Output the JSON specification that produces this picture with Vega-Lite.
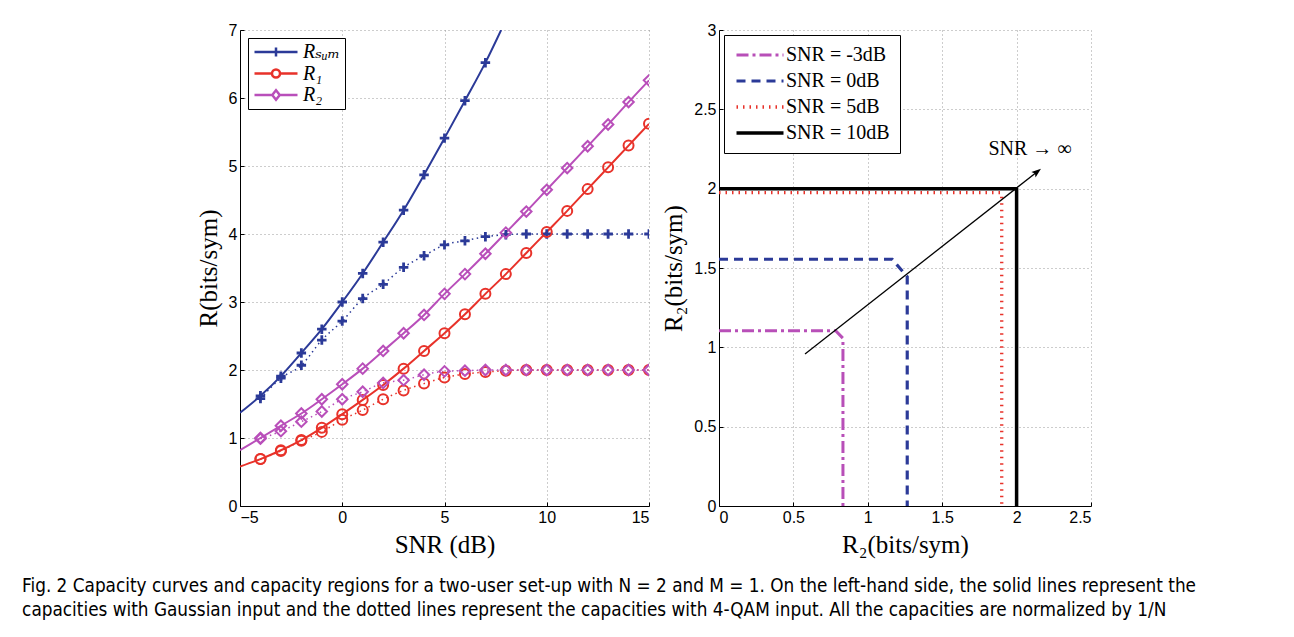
{
  "$schema": "https://vega.github.io/schema/vega-lite/v6.json",
  "background": "white",
  "padding": {"left": 22, "top": 22, "right": 10, "bottom": 10},
  "title": {
    "text": ["Fig. 2 Capacity curves and capacity regions for a two-user set-up with N = 2 and M = 1. On the left-hand side, the solid lines represent the", "capacities with Gaussian input and the dotted lines represent the capacities with 4-QAM input. All the capacities are normalized by 1/N"],
    "orient": "bottom", "anchor": "start", "frame": "bounds",
    "font": "Liberation Sans Narrow, DejaVu Sans Condensed, sans-serif",
    "fontSize": 18.8, "fontWeight": "normal", "color": "black",
    "lineHeight": 24, "offset": 20, "dx": -174
  },
  "datasets": {
    "curves": [
      {"series": "Rₛᵤₘ", "input": "Gaussian", "snr": -5, "rate": 1.37},
      {"series": "Rₛᵤₘ", "input": "Gaussian", "snr": -4, "rate": 1.62},
      {"series": "Rₛᵤₘ", "input": "Gaussian", "snr": -3, "rate": 1.91},
      {"series": "Rₛᵤₘ", "input": "Gaussian", "snr": -2, "rate": 2.25},
      {"series": "Rₛᵤₘ", "input": "Gaussian", "snr": -1, "rate": 2.6},
      {"series": "Rₛᵤₘ", "input": "Gaussian", "snr": 0, "rate": 3.0},
      {"series": "Rₛᵤₘ", "input": "Gaussian", "snr": 1, "rate": 3.42},
      {"series": "Rₛᵤₘ", "input": "Gaussian", "snr": 2, "rate": 3.88},
      {"series": "Rₛᵤₘ", "input": "Gaussian", "snr": 3, "rate": 4.35},
      {"series": "Rₛᵤₘ", "input": "Gaussian", "snr": 4, "rate": 4.87},
      {"series": "Rₛᵤₘ", "input": "Gaussian", "snr": 5, "rate": 5.41},
      {"series": "Rₛᵤₘ", "input": "Gaussian", "snr": 6, "rate": 5.96},
      {"series": "Rₛᵤₘ", "input": "Gaussian", "snr": 7, "rate": 6.52},
      {"series": "Rₛᵤₘ", "input": "Gaussian", "snr": 7.77, "rate": 7.0},
      {"series": "R₁", "input": "Gaussian", "snr": -5, "rate": 0.58},
      {"series": "R₁", "input": "Gaussian", "snr": -4, "rate": 0.69},
      {"series": "R₁", "input": "Gaussian", "snr": -3, "rate": 0.82},
      {"series": "R₁", "input": "Gaussian", "snr": -2, "rate": 0.97},
      {"series": "R₁", "input": "Gaussian", "snr": -1, "rate": 1.15},
      {"series": "R₁", "input": "Gaussian", "snr": 0, "rate": 1.35},
      {"series": "R₁", "input": "Gaussian", "snr": 1, "rate": 1.56},
      {"series": "R₁", "input": "Gaussian", "snr": 2, "rate": 1.78},
      {"series": "R₁", "input": "Gaussian", "snr": 3, "rate": 2.02},
      {"series": "R₁", "input": "Gaussian", "snr": 4, "rate": 2.28},
      {"series": "R₁", "input": "Gaussian", "snr": 5, "rate": 2.54},
      {"series": "R₁", "input": "Gaussian", "snr": 6, "rate": 2.82},
      {"series": "R₁", "input": "Gaussian", "snr": 7, "rate": 3.12},
      {"series": "R₁", "input": "Gaussian", "snr": 8, "rate": 3.41},
      {"series": "R₁", "input": "Gaussian", "snr": 9, "rate": 3.72},
      {"series": "R₁", "input": "Gaussian", "snr": 10, "rate": 4.03},
      {"series": "R₁", "input": "Gaussian", "snr": 11, "rate": 4.34},
      {"series": "R₁", "input": "Gaussian", "snr": 12, "rate": 4.66},
      {"series": "R₁", "input": "Gaussian", "snr": 13, "rate": 4.98},
      {"series": "R₁", "input": "Gaussian", "snr": 14, "rate": 5.3},
      {"series": "R₁", "input": "Gaussian", "snr": 15, "rate": 5.62},
      {"series": "R₂", "input": "Gaussian", "snr": -5, "rate": 0.82},
      {"series": "R₂", "input": "Gaussian", "snr": -4, "rate": 1.0},
      {"series": "R₂", "input": "Gaussian", "snr": -3, "rate": 1.18},
      {"series": "R₂", "input": "Gaussian", "snr": -2, "rate": 1.36},
      {"series": "R₂", "input": "Gaussian", "snr": -1, "rate": 1.57},
      {"series": "R₂", "input": "Gaussian", "snr": 0, "rate": 1.79},
      {"series": "R₂", "input": "Gaussian", "snr": 1, "rate": 2.02},
      {"series": "R₂", "input": "Gaussian", "snr": 2, "rate": 2.28},
      {"series": "R₂", "input": "Gaussian", "snr": 3, "rate": 2.54},
      {"series": "R₂", "input": "Gaussian", "snr": 4, "rate": 2.81},
      {"series": "R₂", "input": "Gaussian", "snr": 5, "rate": 3.12},
      {"series": "R₂", "input": "Gaussian", "snr": 6, "rate": 3.41},
      {"series": "R₂", "input": "Gaussian", "snr": 7, "rate": 3.71},
      {"series": "R₂", "input": "Gaussian", "snr": 8, "rate": 4.02},
      {"series": "R₂", "input": "Gaussian", "snr": 9, "rate": 4.33},
      {"series": "R₂", "input": "Gaussian", "snr": 10, "rate": 4.65},
      {"series": "R₂", "input": "Gaussian", "snr": 11, "rate": 4.97},
      {"series": "R₂", "input": "Gaussian", "snr": 12, "rate": 5.29},
      {"series": "R₂", "input": "Gaussian", "snr": 13, "rate": 5.61},
      {"series": "R₂", "input": "Gaussian", "snr": 14, "rate": 5.94},
      {"series": "R₂", "input": "Gaussian", "snr": 15, "rate": 6.26},
      {"series": "Rₛᵤₘ", "input": "4-QAM", "snr": -4, "rate": 1.58},
      {"series": "Rₛᵤₘ", "input": "4-QAM", "snr": -3, "rate": 1.88},
      {"series": "Rₛᵤₘ", "input": "4-QAM", "snr": -2, "rate": 2.07},
      {"series": "Rₛᵤₘ", "input": "4-QAM", "snr": -1, "rate": 2.44},
      {"series": "Rₛᵤₘ", "input": "4-QAM", "snr": 0, "rate": 2.72},
      {"series": "Rₛᵤₘ", "input": "4-QAM", "snr": 1, "rate": 3.05},
      {"series": "Rₛᵤₘ", "input": "4-QAM", "snr": 2, "rate": 3.26},
      {"series": "Rₛᵤₘ", "input": "4-QAM", "snr": 3, "rate": 3.51},
      {"series": "Rₛᵤₘ", "input": "4-QAM", "snr": 4, "rate": 3.68},
      {"series": "Rₛᵤₘ", "input": "4-QAM", "snr": 5, "rate": 3.84},
      {"series": "Rₛᵤₘ", "input": "4-QAM", "snr": 6, "rate": 3.9},
      {"series": "Rₛᵤₘ", "input": "4-QAM", "snr": 7, "rate": 3.96},
      {"series": "Rₛᵤₘ", "input": "4-QAM", "snr": 8, "rate": 3.99},
      {"series": "Rₛᵤₘ", "input": "4-QAM", "snr": 9, "rate": 4.0},
      {"series": "Rₛᵤₘ", "input": "4-QAM", "snr": 10, "rate": 4.0},
      {"series": "Rₛᵤₘ", "input": "4-QAM", "snr": 11, "rate": 4.0},
      {"series": "Rₛᵤₘ", "input": "4-QAM", "snr": 12, "rate": 4.0},
      {"series": "Rₛᵤₘ", "input": "4-QAM", "snr": 13, "rate": 4.0},
      {"series": "Rₛᵤₘ", "input": "4-QAM", "snr": 14, "rate": 4.0},
      {"series": "Rₛᵤₘ", "input": "4-QAM", "snr": 15, "rate": 4.0},
      {"series": "R₁", "input": "4-QAM", "snr": -4, "rate": 0.69},
      {"series": "R₁", "input": "4-QAM", "snr": -3, "rate": 0.81},
      {"series": "R₁", "input": "4-QAM", "snr": -2, "rate": 0.96},
      {"series": "R₁", "input": "4-QAM", "snr": -1, "rate": 1.09},
      {"series": "R₁", "input": "4-QAM", "snr": 0, "rate": 1.27},
      {"series": "R₁", "input": "4-QAM", "snr": 1, "rate": 1.41},
      {"series": "R₁", "input": "4-QAM", "snr": 2, "rate": 1.57},
      {"series": "R₁", "input": "4-QAM", "snr": 3, "rate": 1.7},
      {"series": "R₁", "input": "4-QAM", "snr": 4, "rate": 1.8},
      {"series": "R₁", "input": "4-QAM", "snr": 5, "rate": 1.89},
      {"series": "R₁", "input": "4-QAM", "snr": 6, "rate": 1.94},
      {"series": "R₁", "input": "4-QAM", "snr": 7, "rate": 1.97},
      {"series": "R₁", "input": "4-QAM", "snr": 8, "rate": 1.99},
      {"series": "R₁", "input": "4-QAM", "snr": 9, "rate": 2.0},
      {"series": "R₁", "input": "4-QAM", "snr": 10, "rate": 2.0},
      {"series": "R₁", "input": "4-QAM", "snr": 11, "rate": 2.0},
      {"series": "R₁", "input": "4-QAM", "snr": 12, "rate": 2.0},
      {"series": "R₁", "input": "4-QAM", "snr": 13, "rate": 2.0},
      {"series": "R₁", "input": "4-QAM", "snr": 14, "rate": 2.0},
      {"series": "R₁", "input": "4-QAM", "snr": 15, "rate": 2.0},
      {"series": "R₂", "input": "4-QAM", "snr": -4, "rate": 0.99},
      {"series": "R₂", "input": "4-QAM", "snr": -3, "rate": 1.1},
      {"series": "R₂", "input": "4-QAM", "snr": -2, "rate": 1.24},
      {"series": "R₂", "input": "4-QAM", "snr": -1, "rate": 1.39},
      {"series": "R₂", "input": "4-QAM", "snr": 0, "rate": 1.57},
      {"series": "R₂", "input": "4-QAM", "snr": 1, "rate": 1.68},
      {"series": "R₂", "input": "4-QAM", "snr": 2, "rate": 1.81},
      {"series": "R₂", "input": "4-QAM", "snr": 3, "rate": 1.85},
      {"series": "R₂", "input": "4-QAM", "snr": 4, "rate": 1.93},
      {"series": "R₂", "input": "4-QAM", "snr": 5, "rate": 1.98},
      {"series": "R₂", "input": "4-QAM", "snr": 6, "rate": 1.99},
      {"series": "R₂", "input": "4-QAM", "snr": 7, "rate": 2.0},
      {"series": "R₂", "input": "4-QAM", "snr": 8, "rate": 2.0},
      {"series": "R₂", "input": "4-QAM", "snr": 9, "rate": 2.0},
      {"series": "R₂", "input": "4-QAM", "snr": 10, "rate": 2.0},
      {"series": "R₂", "input": "4-QAM", "snr": 11, "rate": 2.0},
      {"series": "R₂", "input": "4-QAM", "snr": 12, "rate": 2.0},
      {"series": "R₂", "input": "4-QAM", "snr": 13, "rate": 2.0},
      {"series": "R₂", "input": "4-QAM", "snr": 14, "rate": 2.0},
      {"series": "R₂", "input": "4-QAM", "snr": 15, "rate": 2.0}
    ],
    "regions": [
      {"snr": "SNR = -3dB", "pt": 0, "R1": 0, "R2": 1.105},
      {"snr": "SNR = -3dB", "pt": 1, "R1": 0.784, "R2": 1.105},
      {"snr": "SNR = -3dB", "pt": 2, "R1": 0.833, "R2": 1.057},
      {"snr": "SNR = -3dB", "pt": 3, "R1": 0.833, "R2": 0},
      {"snr": "SNR = 0dB", "pt": 0, "R1": 0, "R2": 1.555},
      {"snr": "SNR = 0dB", "pt": 1, "R1": 1.164, "R2": 1.555},
      {"snr": "SNR = 0dB", "pt": 2, "R1": 1.265, "R2": 1.445},
      {"snr": "SNR = 0dB", "pt": 3, "R1": 1.265, "R2": 0},
      {"snr": "SNR = 5dB", "pt": 0, "R1": 0, "R2": 1.975},
      {"snr": "SNR = 5dB", "pt": 1, "R1": 1.892, "R2": 1.975},
      {"snr": "SNR = 5dB", "pt": 2, "R1": 1.9, "R2": 1.965},
      {"snr": "SNR = 5dB", "pt": 3, "R1": 1.9, "R2": 0},
      {"snr": "SNR = 10dB", "pt": 0, "R1": 0, "R2": 2.0},
      {"snr": "SNR = 10dB", "pt": 1, "R1": 1.998, "R2": 2.0},
      {"snr": "SNR = 10dB", "pt": 2, "R1": 2.0, "R2": 1.998},
      {"snr": "SNR = 10dB", "pt": 3, "R1": 2.0, "R2": 0}
    ],
    "arrow": [
      {"R1": 0.578, "R2": 0.958},
      {"R1": 2.13, "R2": 2.1}
    ],
    "arrowHead": [
      {"R1": 2.13, "R2": 2.1}
    ],
    "note": [
      {"R1": 2.09, "R2": 2.25, "label": "SNR → ∞"}
    ]
  },
  "spacing": 11,
  "resolve": {"scale": {"color": "independent", "shape": "independent", "strokeDash": "independent", "strokeWidth": "independent", "x": "independent", "y": "independent"}},
  "hconcat": [
    {
      "width": 409,
      "height": 476,
      "data": {"name": "curves"},
      "encoding": {
        "x": {"field": "snr", "type": "quantitative", "scale": {"domain": [-5, 15], "nice": false}, "axis": {"values": [-5, 0, 5, 10, 15], "format": "~g", "title": "SNR (dB)"}},
        "y": {"field": "rate", "type": "quantitative", "scale": {"domain": [0, 7], "nice": false}, "axis": {"values": [0, 1, 2, 3, 4, 5, 6, 7], "format": "~g", "title": "R(bits/sym)"}},
        "color": {
          "field": "series", "type": "nominal",
          "scale": {"domain": ["Rₛᵤₘ", "R₁", "R₂"], "range": ["#2B3A98", "#E8322A", "#B94FBA"]},
          "legend": {
            "title": null, "orient": "top-left", "offset": 8,
            "strokeColor": "black", "fillColor": "white", "padding": 4, "cornerRadius": 0,
            "labelFont": "Liberation Serif, DejaVu Serif, serif", "labelFontSize": 20, "labelFontStyle": "italic", "labelColor": "black",
            "symbolSize": 100, "symbolStrokeWidth": 2.5, "symbolOffset": 14, "labelOffset": 17, "rowPadding": 1.5
          }
        }
      },
      "layer": [
        {
          "transform": [{"filter": "datum.input === 'Gaussian'"}],
          "mark": {"type": "line", "strokeWidth": 2, "interpolate": "monotone", "clip": true}
        },
        {
          "transform": [{"filter": "datum.input === '4-QAM'"}],
          "mark": {"type": "line", "strokeWidth": 1.5, "strokeDash": [1.5, 3.5], "interpolate": "monotone", "clip": true}
        },
        {
          "transform": [{"filter": "datum.series === 'Rₛᵤₘ' && datum.snr >= -4 && datum.snr % 1 === 0"}],
          "mark": {"type": "point", "shape": "M-1,0H1M0,-1V1", "filled": false, "strokeWidth": 2.8, "size": 90, "opacity": 1, "clip": true}
        },
        {
          "transform": [{"filter": "datum.series === 'R₁' && datum.snr >= -4 && datum.snr % 1 === 0"}],
          "mark": {"type": "point", "shape": "circle", "filled": false, "strokeWidth": 2, "size": 100, "opacity": 1, "clip": true}
        },
        {
          "transform": [{"filter": "datum.series === 'R₂' && datum.snr >= -4 && datum.snr % 1 === 0"}],
          "mark": {"type": "point", "shape": "diamond", "filled": false, "strokeWidth": 2, "size": 110, "opacity": 1, "clip": true}
        },
        {
          "transform": [{"filter": "false"}],
          "mark": {"type": "point", "filled": false, "strokeWidth": 2.5, "size": 100, "opacity": 1},
          "encoding": {
            "shape": {
              "field": "series", "type": "nominal",
              "scale": {"domain": ["Rₛᵤₘ", "R₁", "R₂"], "range": ["M-4.3,0H4.3M0,-0.9V0.9", "M-4.3,0H-0.8A0.8,0.8 0 1,1 0.8,0A0.8,0.8 0 1,1 -0.8,0M0.8,0H4.3", "M-4.3,0H-0.75L0,-0.95L0.75,0L0,0.95L-0.75,0M0.75,0H4.3"]},
              "legend": {
                "title": null, "orient": "top-left", "offset": 8,
                "strokeColor": "black", "fillColor": "white", "padding": 4, "cornerRadius": 0,
                "labelFont": "Liberation Serif, DejaVu Serif, serif", "labelFontSize": 20, "labelFontStyle": "italic", "labelColor": "black",
                "symbolSize": 100, "symbolStrokeWidth": 2.5, "symbolOffset": 14, "labelOffset": 17, "rowPadding": 1.5
              }
            }
          }
        }
      ]
    },
    {
      "width": 372,
      "height": 476,
      "layer": [
        {
          "data": {"name": "regions"},
          "mark": {"type": "line", "clip": true},
          "encoding": {
            "x": {"field": "R1", "type": "quantitative", "scale": {"domain": [0, 2.5], "nice": false}, "axis": {"values": [0, 0.5, 1, 1.5, 2, 2.5], "format": "~g", "title": "R₂(bits/sym)"}},
            "y": {"field": "R2", "type": "quantitative", "scale": {"domain": [0, 3], "nice": false}, "axis": {"values": [0, 0.5, 1, 1.5, 2, 2.5, 3], "format": "~g", "title": "R₂(bits/sym)"}},
            "order": {"field": "pt", "type": "quantitative"},
            "color": {
              "field": "snr", "type": "nominal",
              "scale": {"domain": ["SNR = -3dB", "SNR = 0dB", "SNR = 5dB", "SNR = 10dB"], "range": ["#B84FB8", "#2B3A98", "#E8322A", "#000000"]},
              "legend": {
                "title": null, "orient": "top-left", "offset": 5,
                "strokeColor": "black", "fillColor": "white", "padding": 10, "cornerRadius": 0,
                "labelFont": "Liberation Serif, DejaVu Serif, serif", "labelFontSize": 20, "labelColor": "black",
                "symbolType": "M-4.7,0H4.7", "symbolSize": 100, "symbolStrokeWidth": 3.5, "symbolOffset": 16, "labelOffset": 16, "rowPadding": 6
              }
            },
            "strokeDash": {"field": "snr", "type": "nominal", "scale": {"domain": ["SNR = -3dB", "SNR = 0dB", "SNR = 5dB", "SNR = 10dB"], "range": [[12, 4, 3, 4], [9, 6], [1.5, 5], [1, 0]]}},
            "strokeWidth": {"field": "snr", "type": "nominal", "scale": {"domain": ["SNR = -3dB", "SNR = 0dB", "SNR = 5dB", "SNR = 10dB"], "range": [3, 3.5, 1.5, 3.5]}, "legend": null}
          }
        },
        {
          "data": {"name": "arrow"},
          "mark": {"type": "line", "color": "black", "strokeWidth": 1.3},
          "encoding": {
            "x": {"field": "R1", "type": "quantitative"},
            "y": {"field": "R2", "type": "quantitative"}
          }
        },
        {
          "data": {"name": "arrowHead"},
          "mark": {"type": "point", "shape": "M0,-1.6L0.85,0.8L0,0.3L-0.85,0.8Z", "filled": true, "color": "black", "opacity": 1, "size": 64, "angle": 52},
          "encoding": {
            "x": {"field": "R1", "type": "quantitative"},
            "y": {"field": "R2", "type": "quantitative"}
          }
        },
        {
          "data": {"name": "note"},
          "mark": {"type": "text", "font": "Liberation Serif, DejaVu Serif, serif", "fontSize": 20, "color": "black", "align": "center", "baseline": "middle"},
          "encoding": {
            "x": {"field": "R1", "type": "quantitative"},
            "y": {"field": "R2", "type": "quantitative"},
            "text": {"field": "label", "type": "nominal"}
          }
        }
      ]
    }
  ],
  "config": {
    "view": {"stroke": null},
    "axis": {
      "domainColor": "black", "domainWidth": 1,
      "grid": true, "gridColor": "#9a9a9a", "gridDash": [1, 3], "gridWidth": 1,
      "ticks": true, "tickColor": "black", "tickSize": -4, "tickWidth": 1,
      "labelFont": "Liberation Sans, Arial, sans-serif", "labelFontSize": 16, "labelColor": "black", "labelPadding": 7,
      "titleFont": "Liberation Serif, DejaVu Serif, serif", "titleFontSize": 25, "titleFontWeight": "normal", "titleColor": "black", "titlePadding": 7
    }
  }
}
